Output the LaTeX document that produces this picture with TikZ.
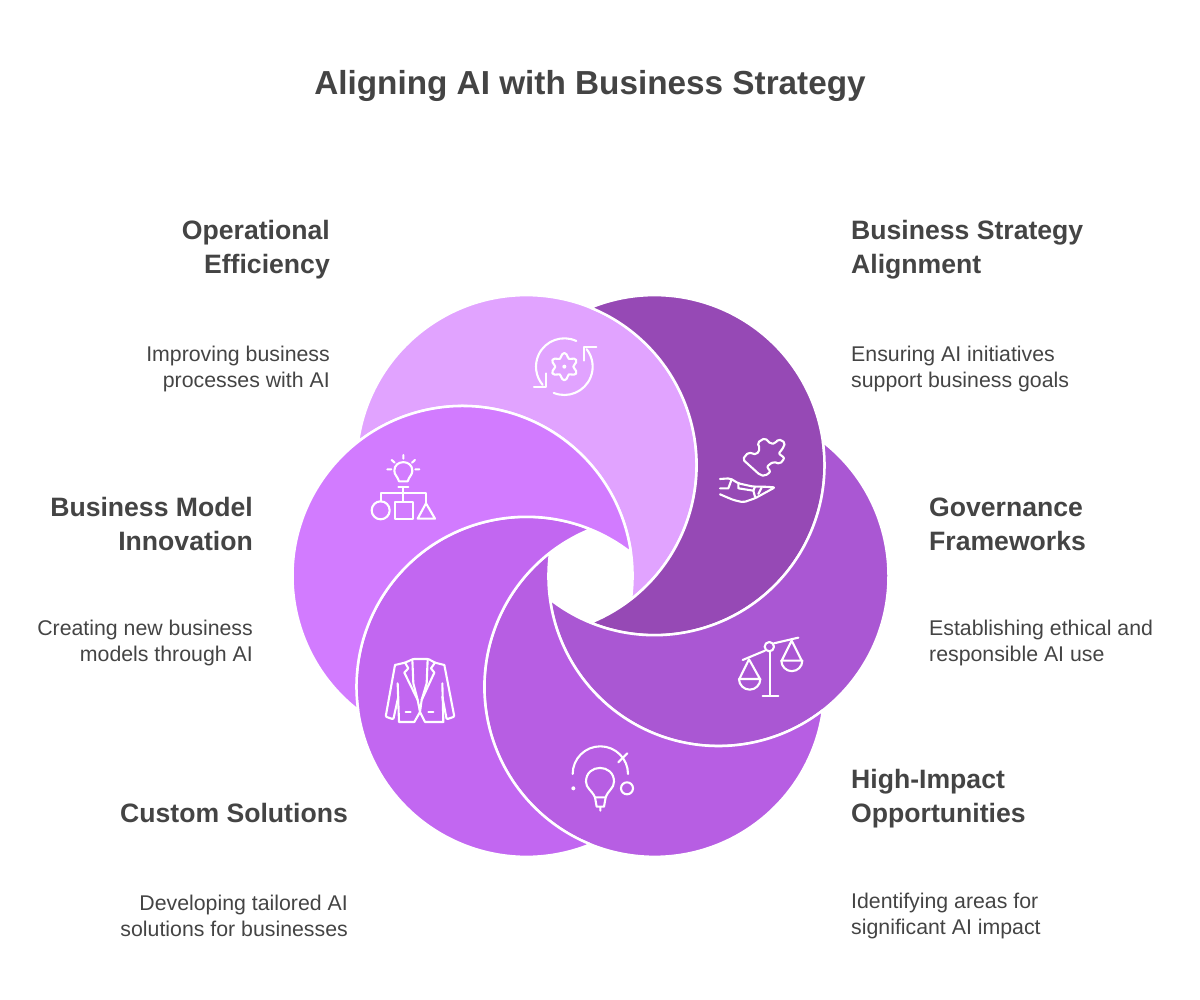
\documentclass[tikz,border=0pt]{standalone}
\usepackage{fontspec}
\setmainfont{Liberation Sans}
\usetikzlibrary{calc}
\definecolor{txt}{HTML}{444444}
\definecolor{cLight}{HTML}{E1A3FF}
\definecolor{cDark}{HTML}{9649B5}
\definecolor{cGov}{HTML}{AA57D3}
\definecolor{cHigh}{HTML}{B75EE3}
\definecolor{cCust}{HTML}{C267F1}
\definecolor{cModel}{HTML}{D27BFF}
\tikzset{
  petal/.style={draw=white,line width=2.5pt,line join=round},
  titletext/.style={font=\fontsize{33.3}{38}\selectfont\bfseries,text=txt,inner sep=0pt},
  head/.style={font=\fontsize{26.6}{34}\selectfont\bfseries,text=txt,inner sep=0pt},
  body/.style={font=\fontsize{21.3}{26}\selectfont,text=txt,inner sep=0pt},
  icon/.style={draw=white,line width=2.1pt,line cap=round,line join=round},
  zoomed/.style={x=0.33333pt,y=-0.33333pt},
}
\newcommand{\crescent}[2]{%
  \filldraw[petal,fill=#2] ($(C)+(#1:128)+(#1+52.1:170)$)
    arc[start angle=#1+52.1,end angle=#1-172.1,radius=170]
    arc[start angle=#1+232.1,end angle=#1+367.9,radius=170] -- cycle;}
\begin{document}
\begin{tikzpicture}[x=1pt,y=1pt]
\useasboundingbox (0,0) rectangle (1200,1000);
\coordinate (C) at (590.5,424);
\crescent{120}{cLight}
\crescent{60}{cDark}
\crescent{0}{cGov}
\crescent{-60}{cHigh}
\crescent{-120}{cCust}
\crescent{180}{cModel}

\node[titletext] (title) at (590,914) {Aligning AI with Business Strategy};

\node[head,anchor=east,align=right] (h1) at (330,750) {Operational\\Efficiency};
\node[body,anchor=east,align=right] (b1) at (330,631) {Improving business\\processes with AI};
\node[head,anchor=west,align=left] (h2) at (851,750) {Business Strategy\\Alignment};
\node[body,anchor=west,align=left] (b2) at (851,631) {Ensuring AI initiatives\\support business goals};
\node[head,anchor=east,align=right] (h3) at (253,476) {Business Model\\Innovation};
\node[body,anchor=east,align=right] (b3) at (253,357) {Creating new business\\models through AI};
\node[head,anchor=west,align=left] (h4) at (929,476) {Governance\\Frameworks};
\node[body,anchor=west,align=left] (b4) at (929,357) {Establishing ethical and\\responsible AI use};
\node[head,anchor=east,align=right] (h5) at (348,187) {Custom Solutions};
\node[body,anchor=east,align=right] (b5) at (348,84) {Developing tailored AI\\solutions for businesses};
\node[head,anchor=west,align=left] (h6) at (851,201) {High-Impact\\Opportunities};
\node[body,anchor=west,align=left] (b6) at (851,83.5) {Identifying areas for\\significant AI impact};

% refresh and gear
\begin{scope}[shift={(525,670)},zoomed]
\draw[icon] (118,110)+(-65:85) arc[start angle=-65,end angle=-220,radius=85];
\draw[icon] (118,110)+(112:85) arc[start angle=112,end angle=-38,radius=85];
\draw[icon] (27,170) -- (62,170) -- (62,130);
\draw[icon] (214,50) -- (178,50) -- (178,92);
\draw[icon] plot[smooth cycle,domain=0:350,samples=36,variable=\t] ({118+(34+7*cos(6*\t+180))*cos(\t)},{110+(34+7*cos(6*\t+180))*sin(\t)});
\fill[white] (118,110) circle[radius=6];
\end{scope}
% puzzle and hand
\begin{scope}[shift={(710,570)},zoomed]
\draw[icon,rounded corners=2pt] (98,88) -- (115,67) -- (140,74) -- (150,56) -- (142,38) -- (165,24) -- (182,42) -- (196,40) -- (205,27) -- (226,38) -- (216,60) -- (205,70) -- (224,84) -- (210,102) -- (190,95) -- (170,110) -- (182,125) -- (165,138) -- (150,135) -- cycle;
\draw[icon,rounded corners=2pt] (30,147) -- (60,145) -- (85,160) -- (130,170) -- (160,170) -- (195,172) -- (135,205) -- (100,217) -- (70,210) -- (30,193);
\draw[icon] (30,175) -- (55,175) -- (65,148);
\draw[icon] (85,160) -- (85,175) -- (130,182) -- (135,170);
\draw[icon] (130,182) -- (135,200);
\draw[icon] (155,172) -- (145,192);
\end{scope}
% bulb and shapes
\begin{scope}[shift={(350,560)},zoomed]
\draw[icon] (147,124) .. controls (142,108) and (133,105) .. (133,92) .. controls (133,58) and (187,58) .. (187,92) .. controls (187,105) and (178,108) .. (173,124) -- cycle;
\draw[icon] (160,45) -- (160,56) (125,60) -- (134,68) (195,60) -- (186,68) (112,88) -- (124,88) (196,88) -- (208,88);
\draw[icon] (145,142) -- (175,142) (160,142) -- (160,185);
\draw[icon] (92,185) -- (92,158) -- (228,158) -- (228,190);
\draw[icon] (92,211) circle[radius=27];
\draw[icon] (135,185) rectangle (188,236);
\draw[icon] (203,236) -- (255,236) -- (228,190) -- cycle;
\end{scope}
% jacket
\begin{scope}[shift={(375,350)},zoomed]
\draw[icon,rounded corners=1pt] (60,45) -- (90,38) -- (115,27) -- (160,27) -- (180,38) -- (208,45);
\draw[icon,rounded corners=1pt] (60,45) -- (32,200) -- (55,208) -- (70,140);
\draw[icon,rounded corners=1pt] (208,45) -- (238,200) -- (215,208) -- (202,140);
\draw[icon] (68,100) -- (72,216) -- (118,216) -- (135,186) -- (150,216) -- (205,216) -- (202,100);
\draw[icon] (90,38) -- (100,55) -- (88,68) -- (128,150) -- (135,186) -- (140,150) -- (178,68) -- (168,55) -- (180,38);
\draw[icon] (112,28) -- (115,100) -- (128,150) (158,28) -- (155,100) -- (140,150);
\draw[icon] (92,185) -- (107,185) (160,185) -- (175,185);
\end{scope}
% scales and orbit bulb
\begin{scope}[shift={(550,400)},zoomed]
\draw[icon] (578,180) -- (645,152) (672,130) -- (745,113);
\draw[icon] (658,140) circle[radius=14];
\draw[icon] (660,154) -- (660,288) (638,288) -- (685,288);
\draw[icon] (568,237) -- (597,178) -- (630,237) (567,237) -- (631,237);
\draw[icon] (567,237) arc[start angle=180,end angle=0,radius=32];
\draw[icon] (695,182) -- (725,122) -- (755,182) (694,182) -- (757,182);
\draw[icon] (694,182) arc[start angle=180,end angle=0,radius=31.5];
\draw[icon] (68,522) arc[start angle=180,end angle=360,radius=83];
\draw[icon] (205,487) -- (232,460);
\fill[white] (70,565) circle[radius=6];
\draw[icon] (231,565) circle[radius=18];
\draw[icon] (135,592) .. controls (125,570) and (108,565) .. (108,545) .. controls (108,490) and (192,490) .. (192,545) .. controls (192,565) and (175,570) .. (167,592) -- cycle;
\draw[icon] (135,592) -- (140,620) -- (162,620) -- (167,592) (151,620) -- (151,632);
\end{scope}
\end{tikzpicture}
\end{document}
